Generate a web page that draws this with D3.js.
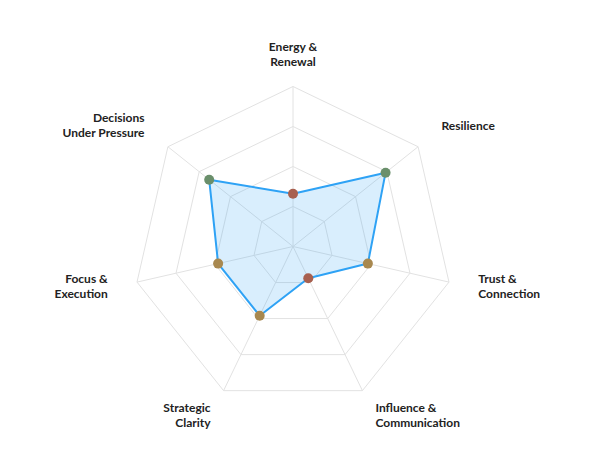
<!DOCTYPE html>
<html>
<head>
<meta charset="utf-8">
<script src="https://cdn.jsdelivr.net/npm/d3@7"></script>
<style>
  body { margin: 0; background: #fff; }
  text { font-family: Lato, "Open Sans", sans-serif; font-weight: 700; fill: #222; }
</style>
</head>
<body>
<div id="chart"></div>
<script>
// axes, clockwise from the top
var axes = [
  ["Energy &", "Renewal"],
  ["Resilience"],
  ["Trust &", "Connection"],
  ["Influence &", "Communication"],
  ["Strategic", "Clarity"],
  ["Focus &", "Execution"],
  ["Decisions", "Under Pressure"]
];
var scores = [33, 74, 48, 22, 48, 48, 67];
var levels = [25, 50, 75, 100];

var w = 597, h = 476,
  cx = 293, cy = 246.5,
  R = 160;

var svg = d3.select("#chart").append("svg")
  .attr("width", w).attr("height", h);

var r = d3.scaleLinear().domain([0, 100]).range([0, R]);
var angle = d3.scaleLinear().domain([0, axes.length]).range([0, 2 * Math.PI]);

function pt(i, v) {
  var a = angle(i) - Math.PI / 2;
  return [cx + r(v) * Math.cos(a), cy + r(v) * Math.sin(a)];
}

function scoreColor(v) {
  if (v >= 60) return "#6a8f6b";
  if (v >= 40) return "#a8884f";
  return "#a8604f";
}

var g = svg.append("g");

// grid rings
g.selectAll(".ring").data(levels).enter().append("polygon")
  .attr("points", function(l) {
    return axes.map(function(d, i) { return pt(i, l).join(","); }).join(" ");
  })
  .attr("fill", "none")
  .attr("stroke", "#e2e2e2")
  .attr("stroke-width", 1);

// spokes
g.selectAll(".spoke").data(axes).enter().append("line")
  .attr("x1", cx).attr("y1", cy)
  .attr("x2", function(d, i) { return pt(i, 100)[0]; })
  .attr("y2", function(d, i) { return pt(i, 100)[1]; })
  .attr("stroke", "#e2e2e2")
  .attr("stroke-width", 1);

// score area
var line = d3.line().curve(d3.curveLinearClosed);
g.append("path")
  .attr("d", line(scores.map(function(v, i) { return pt(i, v); })))
  .attr("fill", "rgba(46,160,245,0.18)")
  .attr("stroke", "#2ea2f5")
  .attr("stroke-width", 2)
  .attr("stroke-linejoin", "round");

g.selectAll(".dot").data(scores).enter().append("circle")
  .attr("cx", function(v, i) { return pt(i, v)[0]; })
  .attr("cy", function(v, i) { return pt(i, v)[1]; })
  .attr("r", 5)
  .attr("fill", scoreColor);

// labels
var labelR = 190, lh = 15;
var lab = g.selectAll(".lab").data(axes).enter().append("text")
  .attr("font-size", 12)
  .attr("text-anchor", function(d, i) {
    var x = Math.cos(angle(i) - Math.PI / 2);
    return Math.abs(x) < 0.01 ? "middle" : (x > 0 ? "start" : "end");
  })
  .attr("transform", function(d, i) {
    var a = angle(i) - Math.PI / 2;
    return "translate(" + (cx + labelR * Math.cos(a)) + "," + (cy + labelR * Math.sin(a) - 2.5) + ")";
  });

lab.selectAll("tspan").data(function(d) {
    return d.map(function(s, j) { return { s: s, j: j, n: d.length }; });
  }).enter().append("tspan")
  .attr("x", 0)
  .attr("y", function(t) { return (t.j - (t.n - 1) / 2) * lh; })
  .attr("dy", "0.35em")
  .text(function(t) { return t.s; });
</script>
</body>
</html>
